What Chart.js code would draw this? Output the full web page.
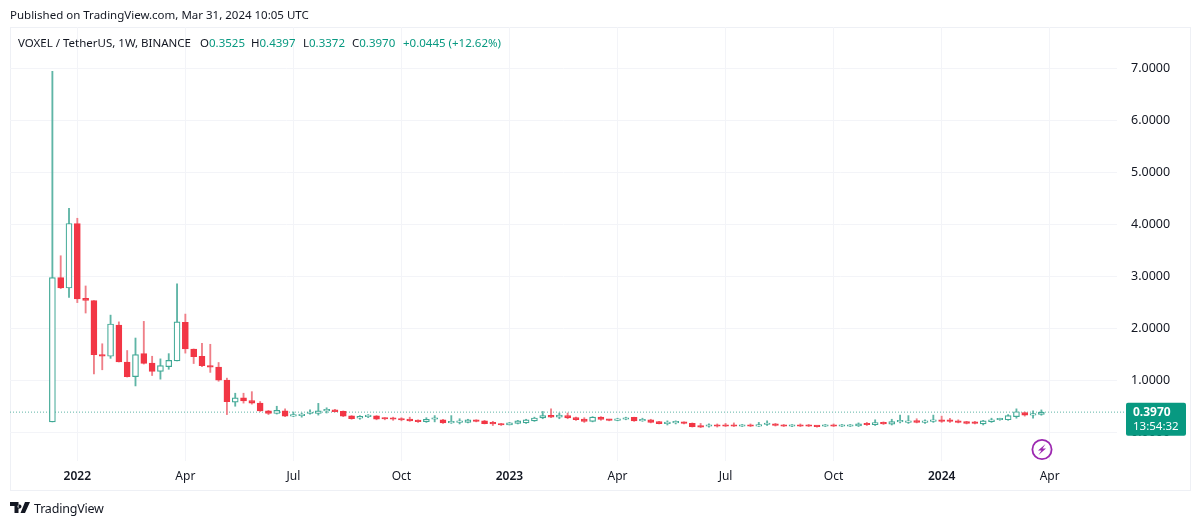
<!DOCTYPE html>
<html><head><meta charset="utf-8">
<script src="https://cdn.jsdelivr.net/npm/chart.js@4"></script>
<style>
html,body{margin:0;padding:0;background:#fff;width:1200px;height:526px;overflow:hidden}
body{font-family:"Noto Sans",sans-serif;color:#131722;position:relative}
canvas{position:absolute;left:0;top:0}
.t{position:absolute;white-space:nowrap;font-size:11.5px;line-height:16px}
.g{color:#089981}
#frame{position:absolute;left:10px;top:27px;width:1179px;height:462px;border:1px solid #eef0f5}
svg{position:absolute}
</style></head><body>
<div id="frame"></div>
<canvas id="c" width="1200" height="526"></canvas>
<div class="t" style="left:10px;top:7px">Published on TradingView.com, Mar 31, 2024 10:05 UTC</div>
<div class="t" style="left:18px;top:35px">VOXEL / TetherUS, 1W, BINANCE</div>
<div class="t" style="left:200px;top:35px">O<span class="g">0.3525</span></div>
<div class="t" style="left:251px;top:35px">H<span class="g">0.4397</span></div>
<div class="t" style="left:303px;top:35px">L<span class="g">0.3372</span></div>
<div class="t" style="left:352px;top:35px">C<span class="g">0.3970</span></div>
<div class="t g" style="left:403px;top:35px">+0.0445 (+12.62%)</div>
<svg style="left:1031px;top:438px" width="22" height="23" viewBox="0 0 22 23"><circle cx="11" cy="11.5" r="9.6" fill="none" stroke="#9c27b0" stroke-width="1.8"/><path d="M14.5 6 L7 12.5 H10.5 L7.5 17 L15 10.5 H11.5 Z" fill="#9c27b0"/></svg>
<svg style="left:10px;top:502px" width="20" height="12" viewBox="0 0 20 12"><path d="M0 0H8.5V11H4.5V4H0Z M9.5 2.6a2 2 0 1 0 0.01 0Z M15 0H20L15 11H10.5Z" fill="#131722"/></svg>
<div class="t" style="left:34px;top:500px;font-size:12.5px;line-height:18px;letter-spacing:-.2px">TradingView</div>
<script>
const categories = ["2022","Apr","Jul","Oct","2023","Apr","Jul","Oct","2024","Apr"];
const tickWeeks = [3,16,29,42,55,68,81,94,107,120];
const priceTicks = [0,1,2,3,4,5,6,7];
const lastPrice = 0.3970;
const opens = [0.21,2.98,2.78,4.02,2.58,2.54,1.50,1.47,2.07,1.36,1.08,1.52,1.34,1.18,1.27,1.38,2.12,1.61,1.47,1.29,
1.26,1.01,0.59,0.67,0.62,0.57,0.42,0.37,0.42,0.32,0.33,0.37,0.37,0.42,0.44,0.41,0.325,0.28,0.31,0.325,
0.28,0.275,0.27,0.265,0.24,0.215,0.26,0.25,0.19,0.20,0.20,0.24,0.23,0.19,0.17,0.15,0.18,0.19,0.23,0.285,
0.335,0.30,0.33,0.29,0.265,0.22,0.30,0.26,0.24,0.26,0.295,0.23,0.25,0.215,0.175,0.19,0.20,0.18,0.13,0.125,
0.15,0.15,0.155,0.125,0.15,0.125,0.16,0.17,0.14,0.125,0.15,0.15,0.13,0.125,0.15,0.125,0.125,0.13,0.175,0.155,
0.195,0.165,0.21,0.20,0.235,0.20,0.22,0.25,0.24,0.225,0.215,0.19,0.17,0.215,0.25,0.25,0.31,0.39,0.34,0.3525];
const closes = [2.98,2.78,4.02,2.57,2.54,1.50,1.47,2.09,1.36,1.08,1.50,1.33,1.18,1.29,1.39,2.13,1.61,1.46,1.29,1.26,
1.01,0.60,0.67,0.61,0.57,0.42,0.37,0.43,0.32,0.335,0.355,0.39,0.42,0.45,0.405,0.32,0.27,0.315,0.33,0.26,
0.265,0.26,0.245,0.23,0.215,0.26,0.27,0.19,0.20,0.22,0.25,0.22,0.175,0.17,0.15,0.19,0.23,0.25,0.285,0.33,
0.30,0.34,0.285,0.25,0.22,0.30,0.255,0.24,0.265,0.285,0.23,0.25,0.20,0.175,0.195,0.205,0.18,0.12,0.11,0.15,
0.125,0.125,0.125,0.15,0.125,0.16,0.17,0.14,0.125,0.15,0.125,0.125,0.12,0.15,0.125,0.15,0.15,0.17,0.155,0.195,
0.17,0.215,0.225,0.23,0.20,0.22,0.24,0.22,0.22,0.20,0.18,0.18,0.23,0.25,0.265,0.33,0.405,0.34,0.3525,0.397];
const highs = [6.94,3.40,4.31,4.12,2.82,2.54,1.71,2.26,2.13,1.58,1.82,2.14,1.47,1.42,1.52,2.86,2.28,1.61,1.72,1.70,
1.35,1.05,0.76,0.76,0.79,0.60,0.43,0.51,0.46,0.40,0.38,0.44,0.565,0.48,0.45,0.42,0.33,0.33,0.35,0.33,
0.29,0.30,0.29,0.30,0.25,0.29,0.33,0.26,0.33,0.27,0.26,0.25,0.24,0.22,0.18,0.20,0.24,0.26,0.30,0.41,
0.46,0.38,0.38,0.30,0.29,0.31,0.31,0.26,0.28,0.30,0.30,0.28,0.26,0.22,0.23,0.23,0.21,0.19,0.18,0.17,
0.17,0.18,0.19,0.16,0.17,0.20,0.23,0.18,0.16,0.16,0.17,0.16,0.14,0.16,0.17,0.16,0.16,0.19,0.20,0.25,
0.21,0.26,0.34,0.33,0.27,0.25,0.34,0.32,0.28,0.25,0.22,0.22,0.24,0.28,0.28,0.35,0.46,0.40,0.42,0.4397];
const lows = [0.21,2.77,2.60,2.50,2.30,1.13,1.21,1.43,1.36,1.07,0.90,1.32,1.10,1.03,1.22,1.38,1.53,1.33,1.27,1.16,
0.99,0.35,0.51,0.57,0.55,0.41,0.35,0.36,0.31,0.31,0.30,0.36,0.34,0.38,0.40,0.31,0.26,0.26,0.29,0.25,
0.25,0.24,0.23,0.22,0.20,0.20,0.21,0.18,0.18,0.17,0.19,0.21,0.17,0.14,0.14,0.15,0.17,0.18,0.22,0.27,
0.29,0.27,0.27,0.24,0.20,0.21,0.24,0.23,0.23,0.25,0.22,0.22,0.19,0.17,0.15,0.17,0.17,0.11,0.10,0.11,
0.11,0.12,0.12,0.12,0.12,0.12,0.14,0.13,0.12,0.12,0.12,0.12,0.11,0.12,0.12,0.12,0.12,0.12,0.14,0.14,
0.16,0.15,0.19,0.18,0.19,0.18,0.20,0.20,0.20,0.19,0.17,0.17,0.15,0.20,0.24,0.24,0.28,0.32,0.28,0.3372];

const UP='#089981', DOWN='#f23645', WICK_UP='#5fb5a6', WICK_DOWN='#ef7f88', BORDER_UP='#3fa895';
const isUp=i=>closes[i]>=opens[i];
const idx=opens.map((_,i)=>i);
const FONT='"Noto Sans",sans-serif';

const priceBox={id:'priceBox',afterDraw(ch){
  const c=ch.ctx,y=ch.scales.y.getPixelForValue(lastPrice);
  const boxTop=y-9.5;
  c.save();
  c.fillStyle=UP;c.beginPath();c.roundRect(1126,boxTop,60,33,2);c.fill();
  c.fillStyle='#fff';c.textBaseline='middle';c.textAlign='left';
  c.font='bold 12px '+FONT;c.fillText(lastPrice.toFixed(4),1133,y);
  c.font='11.5px '+FONT;c.fillText('13:54:32',1133,y+15);
  c.restore();
}};

new Chart(document.getElementById('c'),{
  data:{datasets:[
    {type:'line',order:3,data:[{x:-5.1,y:lastPrice},{x:129,y:lastPrice}],
     borderColor:'#5fb5a6',borderWidth:1,borderDash:[1,2],pointRadius:0,clip:false},
    {type:'bar',order:2,grouped:false,barThickness:1.2,borderWidth:0,
     data:idx.map(i=>({x:i,y:[lows[i],highs[i]]})),
     backgroundColor:idx.map(i=>isUp(i)?WICK_UP:WICK_DOWN)},
    {type:'bar',order:1,grouped:false,barThickness:6,borderWidth:1.2,borderSkipped:false,minBarLength:1.5,
     data:idx.map(i=>({x:i,y:[opens[i],closes[i]]})),
     backgroundColor:idx.map(i=>isUp(i)?'#ffffff':DOWN),
     borderColor:idx.map(i=>isUp(i)?BORDER_UP:DOWN)}
  ]},
  options:{
    responsive:false,animation:false,devicePixelRatio:1,
    layout:{padding:{left:10,top:27,right:10,bottom:36}},
    plugins:{legend:{display:false},tooltip:{enabled:false}},
    scales:{
      x:{type:'linear',min:-5.1,max:128.1,bounds:'data',offset:false,
         afterBuildTicks(s){s.ticks=tickWeeks.map(v=>({value:v}))},
         afterFit(s){s.height=29},
         border:{display:false},
         grid:{color:'#f3f4f8',drawTicks:false,offset:false},
         ticks:{autoSkip:false,maxRotation:0,padding:8,color:'#131722',
           font:ctx=>({family:FONT,size:12,weight:/^\d/.test(String(ctx.tick&&ctx.tick.label))?'600':'400'}),
           callback:(v,i)=>categories[i]}},
      y:{type:'linear',position:'right',min:-0.5416,max:7.793,bounds:'data',
         afterBuildTicks(s){s.ticks=priceTicks.map(v=>({value:v}))},
         afterFit(s){s.width=73},
         border:{display:false},
         grid:{color:'#f3f4f8',drawTicks:false},
         ticks:{padding:14,color:'#131722',font:{family:FONT,size:12.5},callback:v=>v.toFixed(4)}}
    }
  },
  plugins:[priceBox]
});
</script>
</body></html>
